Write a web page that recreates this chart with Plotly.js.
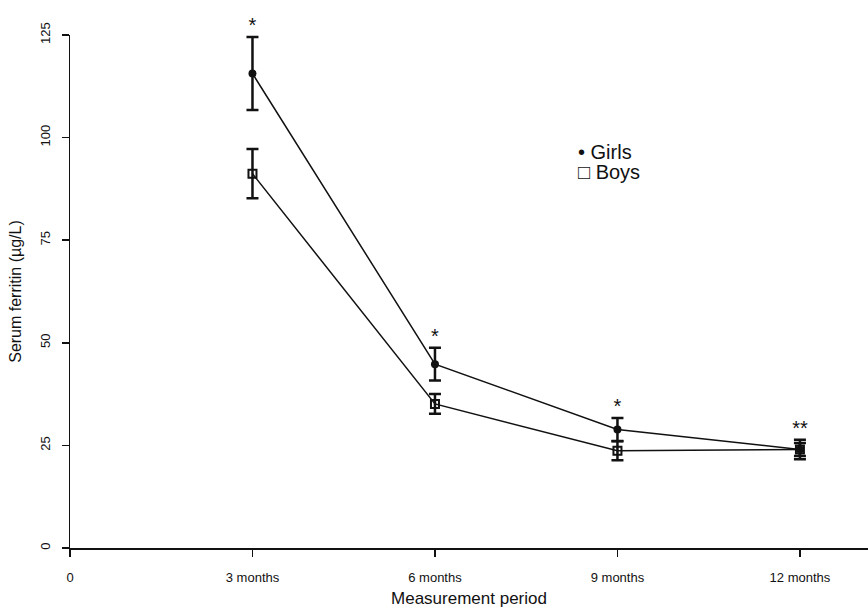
<!DOCTYPE html>
<html>
<head>
<meta charset="utf-8">
<script src="https://cdn.plot.ly/plotly-3.0.1.min.js"></script>
<style>html,body{margin:0;padding:0;background:#fff;}#chart{width:868px;height:608px;}</style>
</head>
<body>
<div id="chart"></div>
<script>
const periodPos = [1, 2, 3, 4];
const tickPos = [0, 1, 2, 3, 4];
const tickLabels = ['0', '3 months', '6 months', '9 months', '12 months'];
const girlsMean = [115.6, 44.8, 28.9, 24.0];
const girlsErr = [8.9, 4.0, 2.8, 2.4];
const boysMean = [91.2, 35.1, 23.7, 24.0];
const boysErr = [6.0, 2.4, 2.3, 1.6];
const starLabels = ['*', '*', '*', '**'];
// significance markers sit just above the girls' upper error bar
const starY = girlsMean.map((m, i) => m + girlsErr[i]);

const fontFam = '"Liberation Sans Narrow", "Liberation Sans", Arial, sans-serif';

const traces = [
  {
    x: periodPos, y: boysMean, type: 'scatter', mode: 'lines+markers', name: 'Boys',
    line: {color: '#111', width: 1.5},
    marker: {symbol: 'square-open', size: 8, color: '#111', line: {width: 2, color: '#111'}},
    error_y: {type: 'data', array: boysErr, visible: true, color: '#111', thickness: 2.5, width: 6},
    cliponaxis: false
  },
  {
    x: periodPos, y: girlsMean, type: 'scatter', mode: 'lines+markers', name: 'Girls',
    line: {color: '#111', width: 1.5},
    marker: {symbol: 'circle', size: 8, color: '#111'},
    error_y: {type: 'data', array: girlsErr, visible: true, color: '#111', thickness: 2.5, width: 6},
    cliponaxis: false
  },
  {
    x: periodPos, y: starY, type: 'scatter', mode: 'text', text: starLabels,
    textposition: 'top center', cliponaxis: false, hoverinfo: 'skip',
    textfont: {family: 'Liberation Sans, Arial, sans-serif', size: 20, color: '#111'}
  }
];

const annotations = [
  {x: 0.634, y: 0.772, xref: 'paper', yref: 'paper', text: '• Girls', showarrow: false,
   xanchor: 'left', yanchor: 'middle', font: {family: 'Liberation Sans, Arial, sans-serif', size: 20, color: '#111'}},
  {x: 0.634, y: 0.733, xref: 'paper', yref: 'paper', text: '□ Boys', showarrow: false,
   xanchor: 'left', yanchor: 'middle', font: {family: 'Liberation Sans, Arial, sans-serif', size: 20, color: '#111'}}
];

const layout = {
  width: 868, height: 608,
  margin: {l: 70, r: 0, t: 35, b: 60},
  paper_bgcolor: '#fff', plot_bgcolor: '#fff',
  showlegend: false,
  font: {family: fontFam, color: '#111'},
  xaxis: {
    range: [0, 4.373], tickvals: tickPos, ticktext: tickLabels,
    showgrid: false, zeroline: false, showline: true, linecolor: '#111', linewidth: 1.5,
    ticks: 'outside', ticklen: 7, tickwidth: 1.5, tickcolor: '#111',
    tickfont: {family: fontFam, size: 13, color: '#111'}, ticklabelstandoff: 10,
    title: {text: 'Measurement period', font: {family: fontFam, size: 17, color: '#111'}, standoff: 8},
    automargin: false
  },
  yaxis: {
    range: [0, 125], tickvals: [0, 25, 50, 75, 100, 125],
    showgrid: false, zeroline: false, showline: true, linecolor: '#111', linewidth: 1.5,
    ticks: 'outside', ticklen: 7, tickwidth: 1.5, tickcolor: '#111', tickangle: -90,
    tickfont: {family: fontFam, size: 13, color: '#111'}, ticklabelstandoff: 6,
    title: {text: 'Serum ferritin (µg/L)', font: {family: fontFam, size: 16, color: '#111'}, standoff: 12},
    automargin: false
  },
  annotations: annotations
};

Plotly.newPlot('chart', traces, layout, {displayModeBar: false, staticPlot: true});
</script>
</body>
</html>
